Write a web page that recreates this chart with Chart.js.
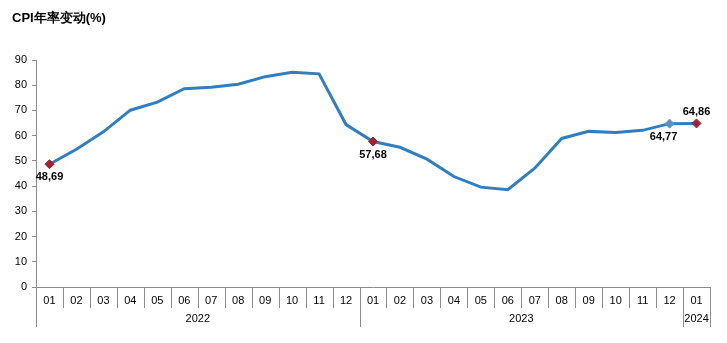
<!DOCTYPE html>
<html>
<head>
<meta charset="utf-8">
<script src="https://cdn.jsdelivr.net/npm/chart.js@4/dist/chart.umd.min.js"></script>
<style>
  html, body { margin: 0; padding: 0; background: #fff; }
  #wrap { width: 727px; height: 343px; position: relative; }
</style>
</head>
<body>
<div id="wrap"><canvas id="c" width="727" height="343"></canvas></div>
<script>
// Monthly CPI year-over-year change (%), Jan 2022 – Jan 2024
const months = ['01','02','03','04','05','06','07','08','09','10','11','12',
                '01','02','03','04','05','06','07','08','09','10','11','12',
                '01'];
const years = [
  { label: '2022', from: 0, to: 11 },
  { label: '2023', from: 12, to: 23 },
  { label: '2024', from: 24, to: 24 }
];
const cpiValues = [48.69, 54.6, 61.5, 70.1, 73.3, 78.6, 79.2, 80.4, 83.4, 85.1, 84.5, 64.4,
                   57.68, 55.4, 50.7, 43.8, 39.6, 38.6, 47.1, 58.9, 61.7, 61.3, 62.1, 64.77,
                   64.86];
const yTicks = [0, 10, 20, 30, 40, 50, 60, 70, 80, 90];
// Points that carry a marker and a value label: index -> label side
const labelled = { 0: 'below', 12: 'below', 23: 'below', 24: 'above' };

const FONT = 'Arial, "Liberation Sans", sans-serif';
const AXIS_GREY = '#8c8c8c';
const LINE_BLUE = '#2f7ec2';
const MARK_RED = '#a3202e';
const MARK_BLUE = '#5b8fc9';

const pointRadius = cpiValues.map((v, i) => (i in labelled ? 4.5 : 0));
const pointColor = cpiValues.map((v, i) => (i === 23 ? MARK_BLUE : MARK_RED));

const fmt = v => v.toFixed(2).replace('.', ',');

// Chart heading
const headingPlugin = {
  id: 'heading',
  afterDraw(chart) {
    const ctx = chart.ctx;
    ctx.save();
    ctx.font = 'bold 13px ' + FONT;
    ctx.fillStyle = '#000';
    ctx.textAlign = 'left';
    ctx.textBaseline = 'middle';
    ctx.fillText('CPI年率变动(%)', 12, 18);
    ctx.restore();
  }
};

// Two-level category axis: month separators and year groups
const groupAxisPlugin = {
  id: 'groupAxis',
  afterDraw(chart) {
    const x = chart.scales.x;
    const ctx = chart.ctx;
    const top = x.top;
    const n = months.length;
    const edge = i => {
      if (i === 0) return chart.chartArea.left;
      if (i === n) return chart.chartArea.right;
      return (x.getPixelForValue(i - 1) + x.getPixelForValue(i)) / 2;
    };
    const yearStarts = new Set(years.map(y => y.from).concat([n]));
    ctx.save();
    ctx.strokeStyle = AXIS_GREY;
    ctx.lineWidth = 1;
    for (let i = 0; i <= n; i++) {
      const px = Math.round(edge(i)) + 0.5;
      const len = yearStarts.has(i) ? 40 : 21;
      ctx.beginPath();
      ctx.moveTo(px, top);
      ctx.lineTo(px, top + len);
      ctx.stroke();
    }
    ctx.font = '11px ' + FONT;
    ctx.fillStyle = '#000';
    ctx.textAlign = 'center';
    ctx.textBaseline = 'middle';
    years.forEach(y => {
      const cx = (edge(y.from) + edge(y.to + 1)) / 2;
      ctx.fillText(y.label, cx, top + 32);
    });
    ctx.restore();
  }
};

// Value labels next to the marked points
const valueLabelPlugin = {
  id: 'valueLabels',
  afterDatasetsDraw(chart) {
    const meta = chart.getDatasetMeta(0);
    const ctx = chart.ctx;
    ctx.save();
    ctx.font = 'bold 11px ' + FONT;
    ctx.fillStyle = '#000';
    ctx.textAlign = 'center';
    ctx.textBaseline = 'middle';
    Object.keys(labelled).forEach(k => {
      const i = +k;
      const pt = meta.data[i];
      const dy = labelled[k] === 'above' ? -11 : 13;
      const dx = i === 23 ? -6 : 0;
      ctx.fillText(fmt(cpiValues[i]), pt.x + dx, pt.y + dy);
    });
    ctx.restore();
  }
};

new Chart(document.getElementById('c'), {
  type: 'line',
  data: {
    labels: months,
    datasets: [{
      data: cpiValues,
      borderColor: LINE_BLUE,
      borderWidth: 3,
      tension: 0,
      fill: false,
      pointStyle: 'rectRot',
      pointRadius: pointRadius,
      pointHoverRadius: pointRadius,
      pointBackgroundColor: pointColor,
      pointBorderColor: pointColor,
      pointBorderWidth: 1
    }]
  },
  options: {
    responsive: false,
    animation: false,
    events: [],
    layout: { padding: { top: 60, left: 12, right: 17, bottom: 0 } },
    plugins: {
      legend: { display: false },
      tooltip: { enabled: false },
      title: { display: false }
    },
    scales: {
      x: {
        type: 'category',
        offset: true,
        grid: { display: false, drawTicks: false, tickLength: 0 },
        border: { display: true, color: AXIS_GREY, width: 1 },
        ticks: {
          color: '#000',
          font: { family: FONT, size: 11 },
          padding: 7,
          maxRotation: 0,
          autoSkip: false
        },
        afterFit(scale) { scale.height = 56; }
      },
      y: {
        min: 0,
        max: 90,
        afterBuildTicks(scale) { scale.ticks = yTicks.map(v => ({ value: v })); },
        grid: {
          drawOnChartArea: false,
          drawTicks: true,
          tickLength: 4,
          color: AXIS_GREY
        },
        border: { display: true, color: AXIS_GREY, width: 1 },
        ticks: {
          color: '#000',
          font: { family: FONT, size: 11 },
          padding: 5
        },
        afterFit(scale) { scale.width = 24; }
      }
    }
  },
  plugins: [headingPlugin, groupAxisPlugin, valueLabelPlugin]
});
</script>
</body>
</html>
